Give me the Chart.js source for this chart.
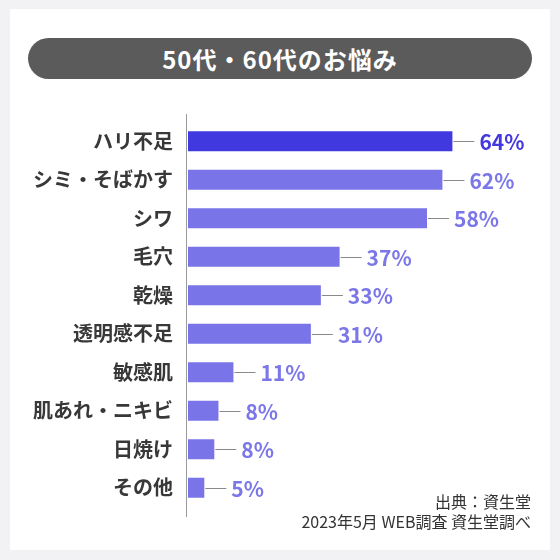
<!DOCTYPE html>
<html lang="ja">
<head>
<meta charset="utf-8">
<script src="https://cdn.jsdelivr.net/npm/chart.js@4.4.1/dist/chart.umd.min.js"></script>
<style>
  html, body { margin: 0; padding: 0; }
  body { width: 560px; height: 560px; background: #f2f2f4; position: relative; overflow: hidden;
         font-family: "Noto Sans CJK JP", "Noto Sans", sans-serif; }
  #card { position: absolute; left: 10px; top: 9px; width: 540px; height: 541px; background: #ffffff; }
  #title { position: absolute; left: 28px; top: 38px; width: 504px; height: 41px; border-radius: 21px;
           background: #5b5b5b; color: #fff; font-weight: 700; font-size: 24px; line-height: 41px;
           letter-spacing: 1px; text-align: center; }
  #chart { position: absolute; left: 0; top: 0; }
  .foot { position: absolute; right: 29px; font-size: 16px; color: #333; line-height: 20px; white-space: nowrap; }
  #f1 { top: 491px; }
  #f2 { top: 511px; }
</style>
</head>
<body>
<div id="card"></div>
<div id="title">50代・60代のお悩み</div>
<canvas id="chart" width="560" height="560"></canvas>
<div class="foot" id="f1">出典：資生堂</div>
<div class="foot" id="f2">2023年5月 WEB調査 資生堂調べ</div>
<script>
const categories = ['ハリ不足', 'シミ・そばかす', 'シワ', '毛穴', '乾燥', '透明感不足', '敏感肌', '肌あれ・ニキビ', '日焼け', 'その他'];
const barValues = [64, 61.6, 57.9, 36.9, 32.4, 30.0, 11.4, 7.8, 6.8, 4.4];
const shownPercent = [64, 62, 58, 37, 33, 31, 11, 8, 8, 5];

const strongColor = '#4139e0';
const normalColor = '#7975e8';
const barColors = categories.map((c, i) => i === 0 ? strongColor : normalColor);
const labelColors = categories.map((c, i) => i === 0 ? '#4338e0' : '#7b77e8');

const FONT = '"Noto Sans CJK JP", "Noto Sans", sans-serif';

const valueLabelPlugin = {
  id: 'valueLabels',
  beforeDatasetsDraw(chart) {
    const ctx = chart.ctx;
    const a = chart.chartArea;
    ctx.save();
    ctx.strokeStyle = '#9a9a9a';
    ctx.lineWidth = 1;
    ctx.beginPath();
    ctx.moveTo(a.left - 0.5, a.top - 8);
    ctx.lineTo(a.left - 0.5, a.bottom + 10);
    ctx.stroke();
    ctx.restore();
  },
  afterDatasetsDraw(chart) {
    const ctx = chart.ctx;
    const meta = chart.getDatasetMeta(0);
    ctx.save();
    meta.data.forEach((bar, i) => {
      const x = bar.x, y = Math.round(bar.y) + 0.5;
      ctx.strokeStyle = '#8a8a8a';
      ctx.lineWidth = 1;
      ctx.beginPath();
      ctx.moveTo(x, y);
      ctx.lineTo(x + 21, y);
      ctx.stroke();
      ctx.fillStyle = labelColors[i];
      ctx.font = '700 21px ' + FONT;
      ctx.textAlign = 'left';
      ctx.textBaseline = 'middle';
      ctx.fillText(shownPercent[i] + '%', x + 26, bar.y + 1);
    });
    ctx.restore();
  }
};

new Chart(document.getElementById('chart'), {
  type: 'bar',
  data: {
    labels: categories,
    datasets: [{
      data: barValues,
      backgroundColor: barColors,
      borderColor: 'rgba(255,255,255,0.35)',
      borderWidth: 1,
      borderSkipped: false,
      barPercentage: 0.75,
      categoryPercentage: 0.76
    }]
  },
  options: {
    indexAxis: 'y',
    responsive: false,
    animation: false,
    devicePixelRatio: 1,
    layout: { padding: { top: 122, bottom: 53, left: 0, right: 40 } },
    plugins: { legend: { display: false }, tooltip: { enabled: false } },
    scales: {
      x: { display: false, min: 0, max: 80 },
      y: {
        afterFit(scale) { scale.width = 187; },
        border: { display: false },
        grid: { display: false, drawTicks: false },
        ticks: {
          padding: 14,
          color: '#383838',
          font: { family: FONT, size: 20, weight: '700' }
        }
      }
    }
  },
  plugins: [valueLabelPlugin]
});
</script>
</body>
</html>
